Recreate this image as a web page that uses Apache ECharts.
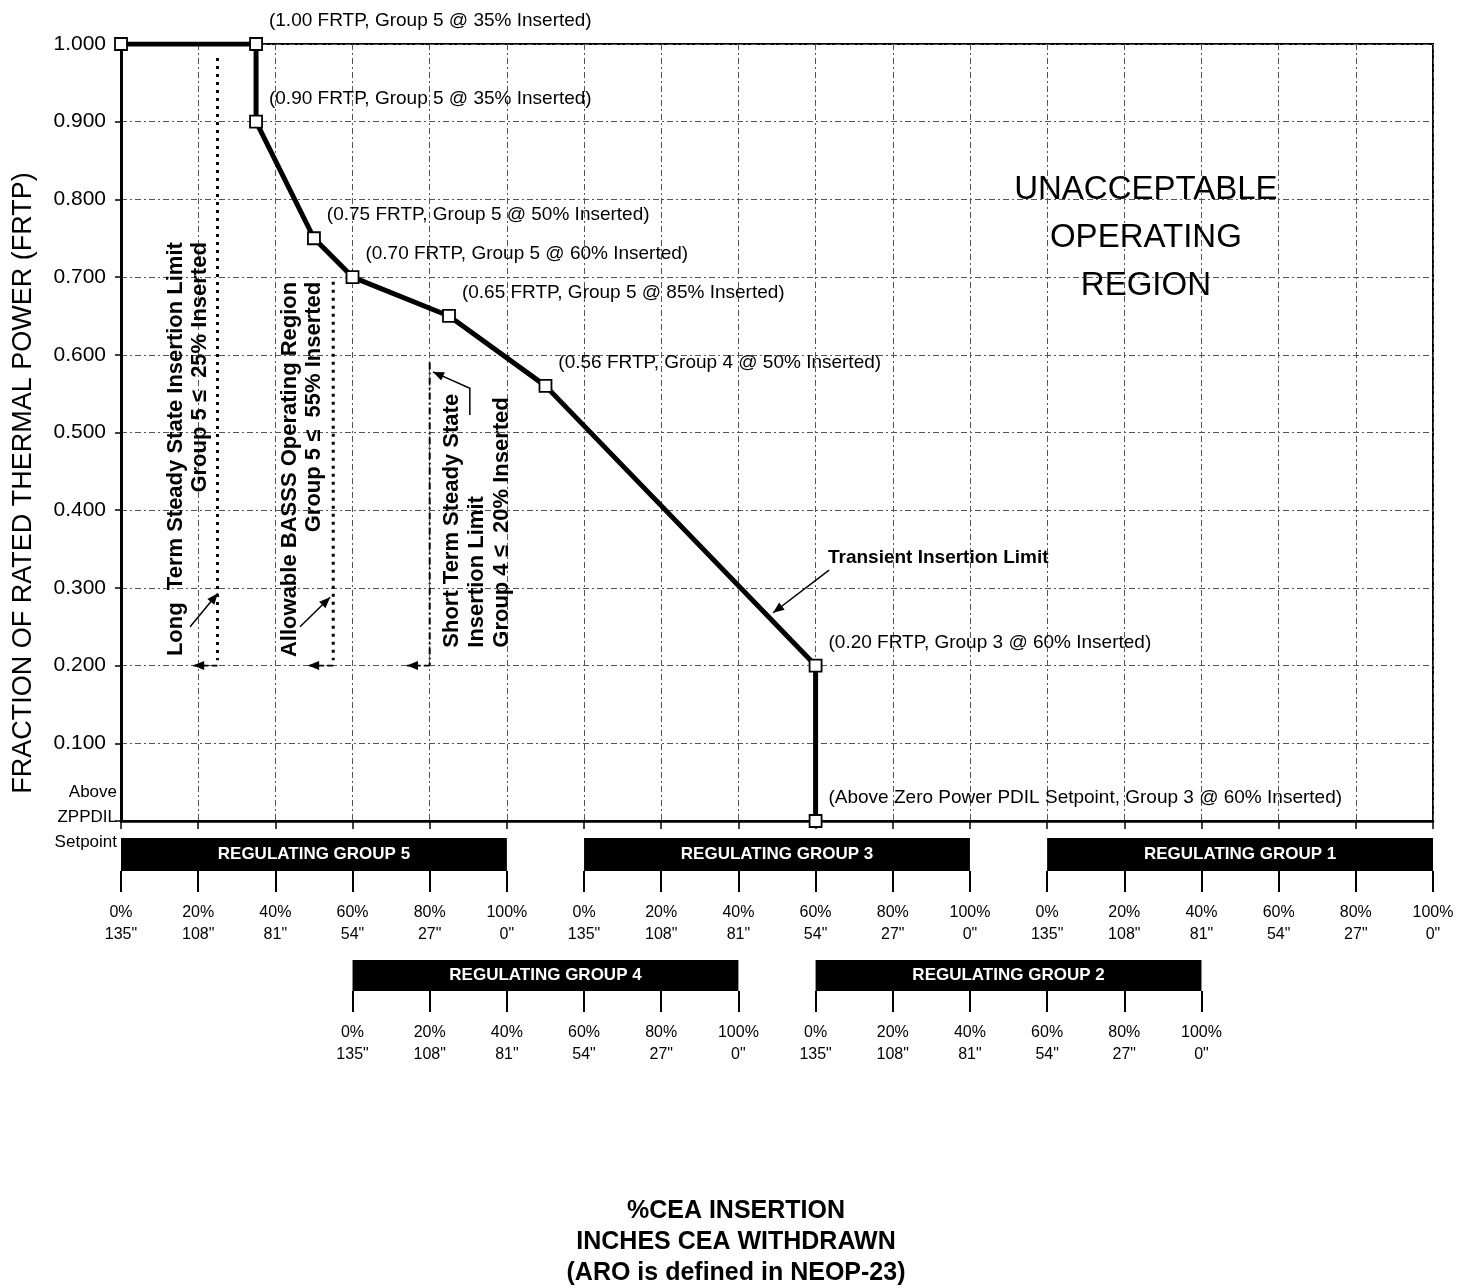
<!DOCTYPE html>
<html><head><meta charset="utf-8">
<script src="https://cdn.jsdelivr.net/npm/echarts@6/dist/echarts.min.js"></script>
<style>html,body{margin:0;padding:0;background:#fff}#c{width:1463px;height:1288px}</style>
</head><body><div id="c"></div>
<script>
const FONT = '"Liberation Sans", Arial, Helvetica, sans-serif';

// ---------- DATA ----------
// position of each regulating group's 0% on the shared insertion scale
const groupZero = {5: 0, 4: 60, 3: 120, 2: 180, 1: 240};
const pointGroup    = [5, 5, 5, 5, 5, 5, 4, 3, 3];
const pointInserted = [0, 35, 35, 50, 60, 85, 50, 60, 60];
const pointFRTP     = [1.00, 1.00, 0.90, 0.75, 0.70, 0.65, 0.56, 0.20, 0.00];
const pointLabels = [
  '',
  '(1.00 FRTP, Group 5 @ 35% Inserted)',
  '(0.90 FRTP, Group 5 @ 35% Inserted)',
  '(0.75 FRTP, Group 5 @ 50% Inserted)',
  '(0.70 FRTP, Group 5 @ 60% Inserted)',
  '(0.65 FRTP, Group 5 @ 85% Inserted)',
  '(0.56 FRTP, Group 4 @ 50% Inserted)',
  '(0.20 FRTP, Group 3 @ 60% Inserted)',
  '(Above Zero Power PDIL Setpoint, Group 3 @ 60% Inserted)'
];
const pctTicks  = [0, 20, 40, 60, 80, 100];
const inchTicks = ['135"', '108"', '81"', '54"', '27"', '0"'];
const upperRowGroups = [5, 3, 1];
const lowerRowGroups = [4, 2];
const groupTitles = {1: 'REGULATING GROUP 1', 2: 'REGULATING GROUP 2', 3: 'REGULATING GROUP 3', 4: 'REGULATING GROUP 4', 5: 'REGULATING GROUP 5'};
const zeroTickLabel = ['Above', 'ZPPDIL', 'Setpoint'];

// steady state limit lines: group, % inserted, FRTP top, FRTP bottom, arrow tip (% of same group) at 0.20 FRTP
const limitGroup    = [5, 5, 4];
const limitInserted = [25, 55, 20];
const limitTop      = [0.982, 0.694, 0.59];
const limitBottom   = [0.207, 0.207, 0.20];
const limitArrowPct = [18.7, 48.5, 14.1];
const limitArrowFRTP = 0.20;

// pointer arrows: [group, % inserted, FRTP] per vertex, last vertex is the arrow tip
const pointerArrows = [
  [[5, 17.9, 0.250], [5, 25.1, 0.293]],
  [[5, 46.4, 0.250], [5, 54.2, 0.288]],
  [[4, 30.4, 0.5225], [4, 30.4, 0.557], [4, 20.85, 0.578]],
  [[3, 63.5, 0.323], [3, 49.0, 0.268]]
];

const noteTexts = [
  'Long  Term Steady State Insertion Limit\nGroup 5 \u2264  25% Inserted',
  'Allowable BASSS Operating Region\nGroup 5 \u2264  55% Inserted',
  'Short Term Steady State\nInsertion Limit\nGroup 4 \u2264  20% Inserted',
  'Transient Insertion Limit',
  'UNACCEPTABLE\nOPERATING\nREGION'
];
const yTitle = 'FRACTION OF RATED THERMAL POWER (FRTP)';
const xTitle = '%CEA INSERTION\nINCHES CEA WITHDRAWN\n(ARO is defined in NEOP-23)';

// ---------- LAYOUT (not data) ----------
const noteLayout = [
  {at: [5, 17.4, 0.745], rotate: 90, align: 'right', font: 'bold 22px ' + FONT, lh: 24},
  {at: [5, 46.9, 0.694], rotate: 90, align: 'right', font: 'bold 22px ' + FONT, lh: 24},
  {at: [4, 32.3, 0.223], rotate: 90, align: 'left',  font: 'bold 22px ' + FONT, lh: 25},
  {at: [3, 63.2, 0.3385], rotate: 0, align: 'left',  font: 'bold 19px ' + FONT, lh: 22},
  {at: [1, 25.6, 0.750], rotate: 0, align: 'center', font: '33px ' + FONT, lh: 48}
];

const pos = (g, p) => groupZero[g] + p;
const AX_MAX = groupZero[1] + 100;

function rowValues(groups) { return groups.flatMap(g => pctTicks.map(p => pos(g, p))); }
function rowLabel(groups) {
  return function (v) {
    for (const g of groups) {
      const k = pctTicks.indexOf(Math.round(v - groupZero[g]));
      if (k >= 0) return pctTicks[k] + '%\n' + inchTicks[k];
    }
    return '';
  };
}

const gridLine = {color: '#555', width: 1, type: [6, 3, 2, 3]};

function rowXAxis(idx, groups) {
  const vals = rowValues(groups);
  return {
    gridIndex: idx, type: 'value', min: 0, max: AX_MAX, interval: 20,
    axisLine: {show: false},
    axisTick: {show: true, length: 21, customValues: vals, lineStyle: {color: '#000', width: 2}},
    axisLabel: {show: true, customValues: vals, formatter: rowLabel(groups), margin: 31,
      fontFamily: FONT, fontSize: 16, lineHeight: 22, color: '#000', showMinLabel: true, showMaxLabel: true},
    splitLine: {show: false}
  };
}
function rowYAxis(idx) {
  return {gridIndex: idx, type: 'value', min: 0, max: 1, show: false};
}
function barSeries(idx, groups) {
  return {
    type: 'custom', xAxisIndex: idx, yAxisIndex: idx, silent: true,
    encode: {x: [0, 1], y: 2},
    data: groups.map(g => [pos(g, 0), pos(g, 100), 0]),
    renderItem: function (params, api) {
      const a = api.coord([api.value(0), 1]);
      const b = api.coord([api.value(1), 0]);
      const g = groups[params.dataIndex];
      return {type: 'group', children: [
        {type: 'rect', shape: {x: a[0], y: a[1], width: b[0] - a[0], height: b[1] - a[1]}, style: {fill: '#000'}},
        {type: 'text', x: (a[0] + b[0]) / 2, y: (a[1] + b[1]) / 2,
          style: {text: groupTitles[g], fill: '#fff', align: 'center', verticalAlign: 'middle', font: 'bold 17px ' + FONT}}
      ]};
    }
  };
}

function arrowHead(p, q, len, half) {
  const dx = p[0] - q[0], dy = p[1] - q[1];
  const d = Math.sqrt(dx * dx + dy * dy) || 1;
  const ux = dx / d, uy = dy / d;
  const bx = p[0] - ux * len, by = p[1] - uy * len;
  return [[p[0], p[1]], [bx - uy * half, by + ux * half], [bx + uy * half, by - ux * half]];
}

// limit lines series
const limitSeries = limitGroup.map((g, i) => ({
  type: 'line', xAxisIndex: 0, yAxisIndex: 0, symbol: 'none', silent: true, z: 3,
  data: [[pos(g, limitInserted[i]), limitTop[i]], [pos(g, limitInserted[i]), limitBottom[i]]],
  lineStyle: i < 2 ? {color: '#000', width: 3, type: [3, 5], cap: 'butt'} : {color: '#000', width: 2, type: [7, 3, 2, 3]}
}));

// horizontal arrows at 0.20 + pointer arrows
const allArrows = limitGroup.map((g, i) => ({pts: [[g, limitInserted[i], limitArrowFRTP], [g, limitArrowPct[i], limitArrowFRTP]], dashed: true}))
  .concat(pointerArrows.map(a => ({pts: a, dashed: false})));

const arrowSeries = {
  type: 'custom', xAxisIndex: 0, yAxisIndex: 0, silent: true, z: 4,
  encode: {x: 0, y: 1},
  data: allArrows.map(a => { const t = a.pts[a.pts.length - 1]; return [pos(t[0], t[1]), t[2]]; }),
  renderItem: function (params, api) {
    const a = allArrows[params.dataIndex];
    const px = a.pts.map(p => api.coord([pos(p[0], p[1]), p[2]]));
    const n = px.length;
    return {type: 'group', children: [
      {type: 'polyline', shape: {points: px}, style: {stroke: '#000', lineWidth: a.dashed ? 1.6 : 1.5, fill: null, lineDash: a.dashed ? [6, 3] : null}},
      {type: 'polygon', shape: {points: arrowHead(px[n - 1], px[n - 2], 11, 4.5)}, style: {fill: '#000'}}
    ]};
  }
};

const noteSeries = {
  type: 'custom', xAxisIndex: 0, yAxisIndex: 0, silent: true, z: 5,
  encode: {x: 0, y: 1},
  data: noteLayout.map(l => [pos(l.at[0], l.at[1]), l.at[2]]),
  renderItem: function (params, api) {
    const l = noteLayout[params.dataIndex];
    const c = api.coord([api.value(0), api.value(1)]);
    return {type: 'text', x: c[0], y: c[1], rotation: l.rotate * Math.PI / 180,
      style: {text: noteTexts[params.dataIndex], font: l.font, lineHeight: l.lh, fill: '#000', align: l.align, verticalAlign: 'middle'}};
  }
};

const mainSeries = {
  type: 'line', xAxisIndex: 0, yAxisIndex: 0, z: 6,
  data: pointFRTP.map((f, i) => [pos(pointGroup[i], pointInserted[i]), f]),
  lineStyle: {color: '#000', width: 5},
  symbol: 'rect', symbolSize: 12,
  itemStyle: {color: '#fff', borderColor: '#000', borderWidth: 1.8},
  label: {show: true, position: 'right', distance: 6, offset: [0, -23],
    formatter: p => pointLabels[p.dataIndex], fontFamily: FONT, fontSize: 19, color: '#000'},
  emphasis: {disabled: true}
};

const chart = echarts.init(document.getElementById('c'), null, {renderer: 'canvas'});
chart.setOption({
  animation: false,
  backgroundColor: '#fff',
  textStyle: {fontFamily: FONT},
  grid: [
    {left: 121, top: 44, width: 1312, height: 777, show: true, borderColor: '#000', borderWidth: 2, backgroundColor: 'transparent'},
    {left: 121, top: 838, width: 1312, height: 33},
    {left: 121, top: 960, width: 1312, height: 31}
  ],
  xAxis: [
    {gridIndex: 0, type: 'value', min: 0, max: AX_MAX, interval: 20,
      axisLine: {onZero: false, lineStyle: {color: '#000', width: 2.5}},
      axisTick: {show: true, length: 8, lineStyle: {color: '#000', width: 1.5}},
      axisLabel: {show: false},
      splitLine: {show: true, lineStyle: gridLine}},
    rowXAxis(1, upperRowGroups),
    rowXAxis(2, lowerRowGroups)
  ],
  yAxis: [
    {gridIndex: 0, type: 'value', min: 0, max: 1, interval: 0.1,
      axisLine: {show: true, lineStyle: {color: '#000', width: 3}},
      axisTick: {show: true, length: 6, lineStyle: {color: '#000', width: 1.5}},
      axisLabel: {margin: 4, color: '#000',
        formatter: v => Math.abs(v) < 1e-9 ? zeroTickLabel.map(s => '{s|' + s + '}').join('\n') + '\n{g|}' : '{n|' + v.toFixed(3) + '}',
        rich: {
          n: {fontSize: 21, fontFamily: FONT, color: '#000', padding: [0, 11, 0, 0]},
          s: {fontSize: 17, fontFamily: FONT, color: '#000', lineHeight: 25},
          g: {fontSize: 1, lineHeight: 8}
        }},
      splitLine: {show: true, lineStyle: gridLine}},
    rowYAxis(1), rowYAxis(2)
  ],
  series: [...limitSeries, arrowSeries, noteSeries, mainSeries, barSeries(1, upperRowGroups), barSeries(2, lowerRowGroups)],
  graphic: [
    {type: 'text', x: 24, y: 483, rotation: Math.PI / 2,
      style: {text: yTitle, font: '27px ' + FONT, fill: '#000', align: 'center', verticalAlign: 'middle'}},
    {type: 'text', x: 736, y: 1196,
      style: {text: xTitle, font: 'bold 25px ' + FONT, lineHeight: 31, fill: '#000', align: 'center', verticalAlign: 'top'}}
  ]
});
</script>
</body></html>
